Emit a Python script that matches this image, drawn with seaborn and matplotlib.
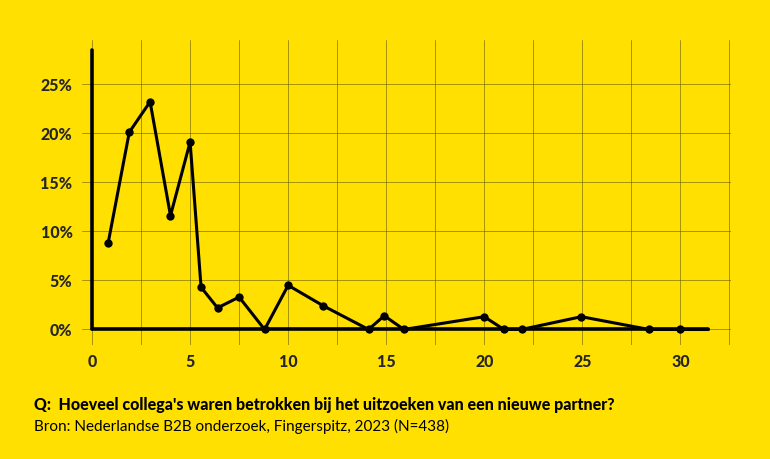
import numpy as np
import pandas as pd
import seaborn as sns
import matplotlib.pyplot as plt

# aantal collega's vs aandeel respondenten
colleagues = [0.82, 1.9, 2.96, 4.0, 5.0, 5.56, 6.4, 7.5, 8.8, 10.0, 11.8, 14.1, 14.9, 15.9,
              20.0, 21.0, 21.9, 24.95, 28.4, 30.0]
share = [8.8, 20.1, 23.2, 11.6, 19.1, 4.3, 2.2, 3.3, 0.0, 4.5, 2.4, 0.0, 1.4, 0.0,
         1.3, 0.0, 0.0, 1.3, 0.0, 0.0]
xticks = [0, 5, 10, 15, 20, 25, 30]
yticks = [0, 5, 10, 15, 20, 25]

YELLOW = "#FFE000"
sns.set_theme(style="white")
plt.rcParams['font.family'] = ['Lato', 'DejaVu Sans']

df = pd.DataFrame({"x": colleagues, "y": share})

fig = plt.figure(figsize=(7.7, 4.59), dpi=100, facecolor=YELLOW)
ax = fig.add_axes([0.1068, 0.248, 0.843, 0.665])
ax.set_facecolor(YELLOW)

# grid
for gx in np.arange(0, 33, 2.5):
    ax.axvline(gx, color="#6b5f00", lw=0.6, alpha=0.7, zorder=0)
for gy in yticks:
    ax.axhline(gy, color="#6b5f00", lw=0.6, alpha=0.7, zorder=0)

sns.lineplot(data=df, x="x", y="y", ax=ax, color="black", lw=2.2, marker="o",
             markersize=6, markeredgewidth=0, zorder=3)
ax.plot([30, 31.4], [0, 0], color="black", lw=2.2, zorder=3)

ax.set_xlim(-0.5, 32.6)
ax.set_ylim(-1.6, 29.5)
ax.axvline(0, ymin=(0 + 1.6) / 31.1, ymax=(28.5 + 1.6) / 31.1, color="black", lw=2.6, zorder=4)
ax.plot([0, 31.4], [0, 0], color="black", lw=2.6, zorder=4)
for s in ax.spines.values():
    s.set_visible(False)

ax.set_xticks(xticks)
ax.set_xticklabels([str(t) for t in xticks], fontsize=11.5, fontweight="black")
ax.set_yticks(yticks)
ax.set_yticklabels([f"{t}%" for t in yticks], fontsize=11.5, fontweight="black")
ax.tick_params(axis="y", length=5, width=0.6, color="#6b5f00", pad=2)
ax.tick_params(axis="x", length=0, pad=6)
ax.set_xlabel("")
ax.set_ylabel("")

fig.text(0.044, 0.107, "Q:  Hoeveel collega's waren betrokken bij het uitzoeken van een nieuwe partner?",
         fontsize=11.5, fontweight="black", color="black")
fig.text(0.044, 0.06, "Bron: Nederlandse B2B onderzoek, Fingerspitz, 2023 (N=438)",
         fontsize=11, color="black")

fig.savefig("out.png", dpi=100, facecolor=YELLOW)
